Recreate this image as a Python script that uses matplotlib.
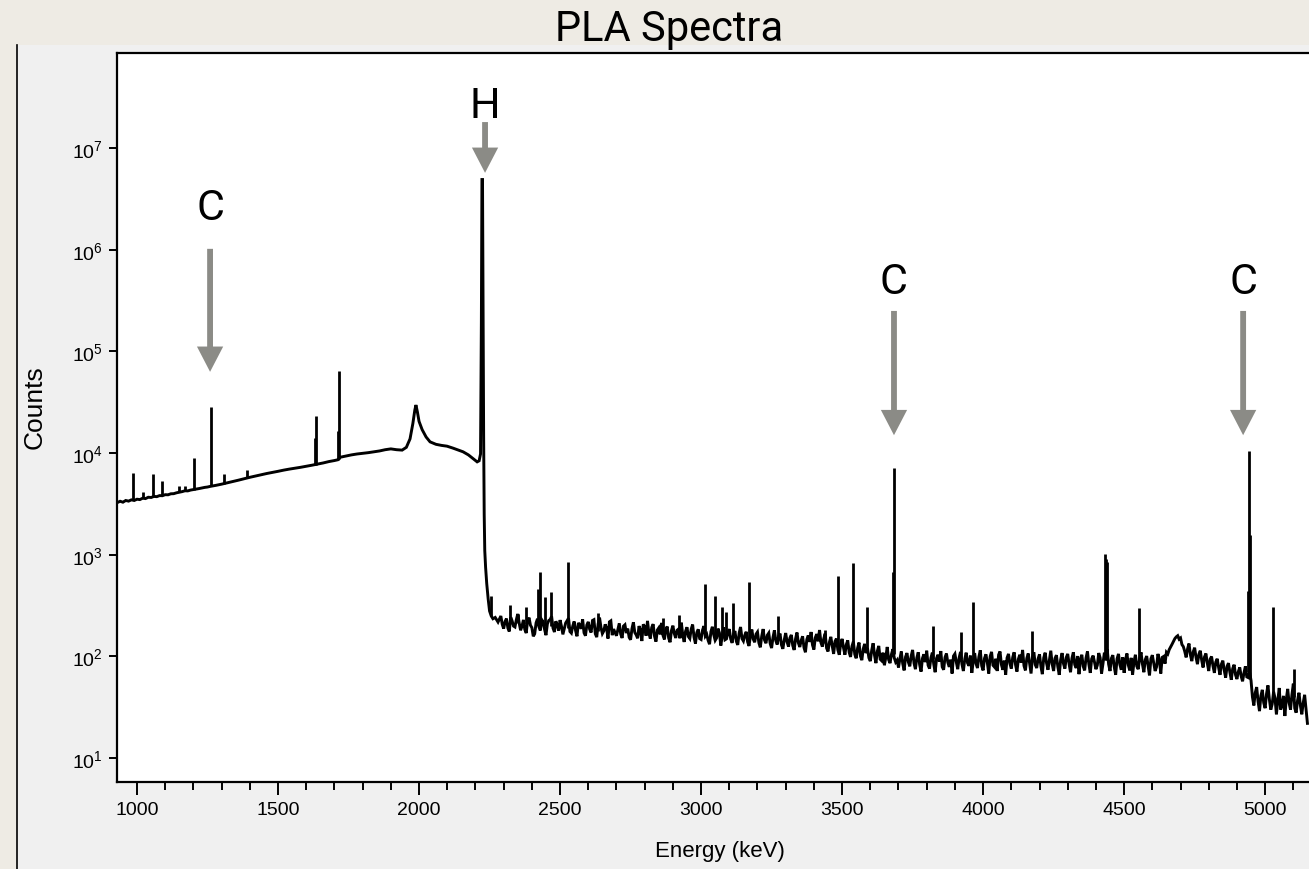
import matplotlib
matplotlib.use("Agg")
import matplotlib.pyplot as plt
import numpy as np
from matplotlib.patches import Rectangle
from matplotlib.lines import Line2D
from matplotlib.ticker import MultipleLocator, FixedLocator, NullLocator

plt.rcParams['font.family'] = ['Liberation Sans', 'DejaVu Sans']

# --- continuum below the H line (keV, counts) ---
e_low = [929, 940, 950, 960, 970, 980, 990, 1000, 1010, 1020, 1030, 1040, 1050, 1060,
         1070, 1080, 1090, 1100, 1110, 1120, 1130, 1140, 1160, 1170, 1180, 1190, 1200,
         1210, 1220, 1240, 1250, 1260, 1270, 1280, 1300, 1320, 1340, 1360, 1380, 1400,
         1420, 1440, 1460, 1480, 1500, 1520, 1540, 1560, 1580, 1600, 1620, 1640, 1660,
         1680, 1700, 1712, 1720, 1740, 1760, 1780, 1800, 1820, 1840, 1860, 1880, 1900,
         1920, 1940, 1955, 1968, 1978, 1985, 1989, 1994, 2000, 2011, 2025, 2039, 2060,
         2080, 2099, 2120, 2140, 2156, 2175, 2190, 2206, 2213, 2218]
c_low = [3250, 3360, 3290, 3420, 3370, 3470, 3420, 3520, 3490, 3600, 3570, 3680, 3660, 3750,
         3730, 3820, 3810, 3900, 3890, 3980, 3990, 4070, 4180, 4260, 4250, 4330, 4380,
         4430, 4480, 4600, 4640, 4710, 4760, 4820, 4950, 5100, 5260, 5420, 5600, 5780,
         5950, 6120, 6300, 6450, 6620, 6800, 6960, 7100, 7250, 7420, 7600, 7800, 8000,
         8250, 8450, 8600, 9100, 9350, 9600, 9800, 9950, 10100, 10300, 10500, 10800, 11000,
         10800, 10700, 11400, 13800, 19500, 26500, 29700, 25500, 20500, 17000, 14400, 12900, 12200,
         11900, 11700, 11200, 10700, 10300, 9600, 8900, 8200, 8400, 9800]

# --- H capture line and its fall-off ---
e_h = [2221, 2223, 2225, 2227, 2229, 2231, 2233, 2236, 2240, 2245, 2250, 2256, 2262, 2270, 2280]
c_h = [2.0e5, 4.9e6, 4.9e6, 3.0e5, 1.5e4, 2500, 1100, 750, 520, 370, 280, 250, 235, 242, 218]

# --- continuum above the H line: 5 keV channels, stored as two interleaved lists ---
e_high = np.arange(2290, 5151, 10)
c_high = [250, 188, 236, 176, 224, 195, 262, 181, 229, 170, 241, 192, 167, 235, 180, 219, 162, 226, 248, 174, 205,
          228, 165, 214, 238, 170, 221, 158, 203, 232, 160, 219, 172, 230, 155, 241, 168, 207, 150, 224, 186,
          160, 212, 152, 205, 188, 146, 217, 163, 199, 142, 196, 224, 150, 208, 140, 191, 214, 147, 197, 138,
          201, 152, 186, 215, 139, 194, 150, 206, 134, 185, 147, 199, 165, 132, 196, 144, 188, 128, 193, 149,
          186, 136, 178, 130, 195, 142, 175, 127, 184, 138, 174, 123, 186, 135, 170, 121, 181, 131, 168, 119,
          170, 125, 163, 116, 172, 124, 158, 110, 161, 174, 117, 166, 182, 125, 168, 112, 156, 106, 150, 104,
          149, 104, 144, 99, 140, 96, 137, 92, 133, 121, 90, 135, 86, 127, 91, 82, 124, 86, 118, 88,
          78, 112, 73, 108, 80, 116, 75, 110, 71, 105, 114, 76, 109, 70, 104, 113, 74, 107, 79, 68,
          106, 75, 111, 72, 109, 81, 69, 108, 77, 115, 73, 105, 68, 111, 79, 72, 112, 74, 66, 106,
          76, 110, 71, 104, 116, 73, 107, 68, 110, 77, 105, 67, 109, 74, 114, 72, 103, 66, 108, 76,
          106, 70, 110, 77, 67, 104, 73, 112, 69, 102, 75, 108, 68, 109, 118, 72, 103, 66, 106, 74,
          69, 107, 73, 66, 104, 75, 110, 70, 101, 65, 103, 72, 106, 68, 100, 110, 117, 132, 150, 160,
          152, 125, 98, 134, 90, 122, 84, 114, 78, 107, 72, 100, 69, 95, 66, 91, 62, 86, 59, 83,
          60, 78, 57, 80, 62,
          58, 33, 50, 29, 47, 31, 52, 30, 45, 27, 49, 33, 26, 48, 30, 54, 28, 44, 27, 42, 22]
e_mid = np.arange(2295, 5146, 10)
c_mid = [207, 221, 190, 243, 199, 230, 214, 198, 184, 226, 203, 158, 214, 196, 230, 185, 209, 231, 190, 222, 180,
         198, 187, 225, 176, 199, 180, 214, 187, 171, 204, 185, 226, 167, 209, 193, 178, 190, 219, 162, 171,
         185, 166, 199, 170, 154, 188, 172, 151, 182, 207, 160, 170, 193, 158, 182, 165, 161, 186, 152, 180,
         168, 181, 151, 163, 177, 157, 186, 155, 172, 150, 181, 158, 144, 176, 163, 152, 171, 159, 146, 170,
         149, 165, 141, 170, 150, 162, 139, 160, 148, 166, 136, 158, 145, 162, 134, 154, 143, 159, 130, 146,
         139, 152, 128, 149, 136, 144, 122, 147, 139, 130, 153, 141, 137, 150, 121, 138, 127, 141, 116, 133,
         122, 131, 110, 126, 105, 121, 101, 119, 108, 97, 115, 103, 113, 94, 109, 98, 93, 105, 97, 92,
         95, 85, 99, 88, 101, 86, 97, 83, 96, 88, 82, 97, 84, 96, 89, 79, 98, 87, 93, 101,
         88, 97, 84, 94, 86, 102, 90, 85, 99, 81, 96, 87, 100, 82, 95, 104, 83, 91, 97, 85,
         98, 83, 94, 87, 81, 96, 85, 99, 83, 95, 80, 97, 86, 92, 84, 96, 79, 93, 85, 98,
         84, 96, 83, 101, 94, 80, 97, 84, 95, 88, 82, 97, 85, 93, 84, 96, 79, 95, 83, 98,
         93, 82, 97, 89, 80, 96, 84, 93, 81, 95, 86, 79, 92, 98, 85, 106, 124, 141, 156, 148,
         131, 112, 119, 104, 111, 98, 105, 92, 99, 86, 94, 81, 88, 78, 84, 73, 80, 70, 76, 66,
         71, 64, 69, 63, 70,
         40, 44, 36, 41, 35, 43, 38, 34, 39, 37, 30, 41, 38, 35, 42, 31, 37, 33, 35, 30]

# --- narrow lines: energy, continuum under the line, top ---
peak_e = [985, 1022, 1058, 1088, 1150, 1170, 1202, 1263, 1309, 1389, 1631, 1635, 1711, 1715,
          2255, 2323, 2350, 2379, 2423, 2429, 2448, 2469, 2529, 2636, 2864, 2923, 3014, 3051,
          3073, 3088, 3112, 3171, 3271, 3440, 3487, 3539, 3588, 3681, 3684, 3821, 3922, 3963,
          4173, 4433, 4437, 4441, 4554, 4938, 4943, 4946, 5029, 5103]
peak_base = [3450, 3600, 3740, 3850, 4130, 4250, 4380, 4710, 5000, 5700, 7680, 7700, 8600, 8700,
             250, 215, 212, 210, 205, 205, 200, 200, 190, 180, 168, 165, 162, 160,
             160, 158, 156, 152, 147, 135, 128, 122, 115, 105, 105, 94, 94, 94,
             94, 92, 92, 92, 90, 70, 70, 60, 40, 40]
peak_top = [6370, 4140, 6230, 5320, 4700, 4800, 8950, 28600, 6230, 6870, 14000, 23300, 16600, 64600,
            393, 321, 263, 309, 461, 682, 387, 428, 843, 268, 238, 256, 516, 391,
            309, 276, 333, 543, 248, 183, 614, 826, 305, 673, 7080, 198, 173, 346,
            180, 1020, 900, 843, 298, 444, 10400, 1580, 305, 75]

# --- annotations: label, energy, text baseline, arrow tail, arrow tip ---
ann_label = ["C", "H", "C", "C"]
ann_e = [1259, 2234, 3684, 4922]
ann_text_y = [2.0e6, 2.0e7, 3.75e5, 3.75e5]
ann_tail = [1.02e6, 1.8e7, 2.5e5, 2.5e5]
ann_tip = [6.3e4, 5.7e6, 1.5e4, 1.5e4]

y_ticks = [1e1, 1e2, 1e3, 1e4, 1e5, 1e6, 1e7]

W, H = 1309, 870
fig = plt.figure(figsize=(W / 100, H / 100), dpi=100, facecolor="#eeebe4")
fig.add_artist(Rectangle((16 / W, 0), 1, 1 - 46 / H, transform=fig.transFigure,
                         facecolor="#f0f0f0", edgecolor="none", zorder=0))
fig.add_artist(Line2D([16.5 / W, 16.5 / W], [0, 1 - 46 / H], transform=fig.transFigure,
                      color="black", lw=1.2))

ax = fig.add_axes([117 / W, 87 / H, (1330 - 117) / W, (783 - 54) / H])
ax.set_facecolor("white")

energy = np.concatenate([e_low, e_h, e_high, e_mid])
counts = np.concatenate([c_low, c_h, c_high, c_mid])
order = np.argsort(energy, kind="stable")
ax.plot(energy[order], counts[order], color="black", lw=2.1, solid_joinstyle="miter")
ax.vlines(peak_e, peak_base, peak_top, color="black", lw=2.0)

ax.set_yscale("log")
ax.set_xlim(929, 5230)
ax.set_ylim(5.83, 8.6e7)
ax.xaxis.set_major_locator(MultipleLocator(500))
ax.xaxis.set_minor_locator(MultipleLocator(100))
ax.yaxis.set_major_locator(FixedLocator(y_ticks))
ax.yaxis.set_minor_locator(NullLocator())
ax.tick_params(axis="x", which="major", length=9.5, width=1.4, labelsize=14, pad=4)
ax.tick_params(axis="x", which="minor", length=6, width=1.4)
ax.tick_params(axis="y", which="major", length=6, width=1.4, labelsize=14, pad=4)
for s in ax.spines.values():
    s.set_linewidth(1.6)

ax.set_xlabel("Energy (keV)", fontsize=16, va="center")
ax.xaxis.set_label_coords((720 - 117) / 1213, (783 - 852) / 729)
ax.set_ylabel("Counts", fontsize=19, va="center")
ax.yaxis.set_label_coords((35 - 117) / 1213, (783 - 407) / 729)

for lab, e, ty, t0, t1 in zip(ann_label, ann_e, ann_text_y, ann_tail, ann_tip):
    ax.text(e, ty, lab, fontsize=31, ha="center", va="baseline", family="Roboto")
    ax.annotate("", xy=(e, t1), xytext=(e, t0),
                arrowprops=dict(arrowstyle="simple,head_width=1.35,head_length=1.3,tail_width=0.3",
                                mutation_scale=14, color="#8b8b86", lw=0,
                                shrinkA=0, shrinkB=0))

fig.text(669 / W, 1 - 29 / H, "PLA Spectra", fontsize=30, ha="center", va="center",
         family="Roboto")

fig.savefig("out.png", dpi=100, facecolor=fig.get_facecolor())
